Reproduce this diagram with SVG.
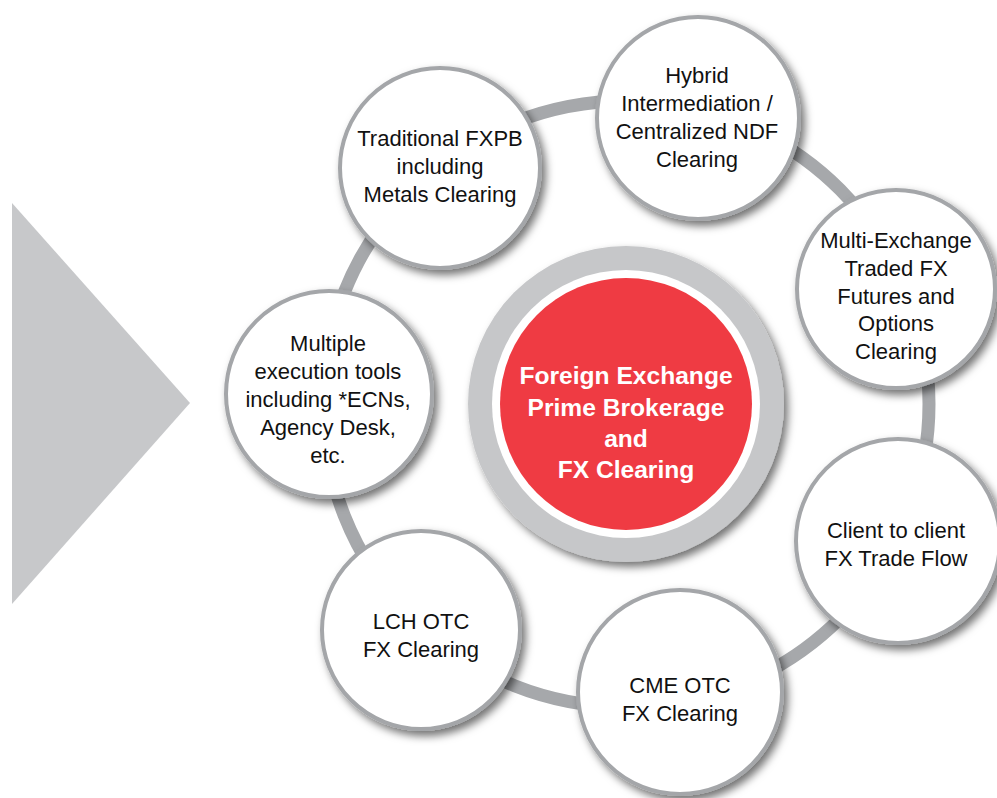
<svg xmlns="http://www.w3.org/2000/svg" width="997" height="798" viewBox="0 0 997 798">
<defs>
<filter id="sh" x="-20%" y="-20%" width="150%" height="150%">
<feDropShadow dx="4" dy="5" stdDeviation="4" flood-color="#000" flood-opacity="0.55"/>
</filter>
<style>
.node circle{fill:#fff;stroke:#a4a6a9;stroke-width:4;filter:url(#sh)}
.node text{font-family:"Liberation Sans",Arial,sans-serif;font-size:22px;fill:#111;text-anchor:middle}
.ctext{font-family:"Liberation Sans",Arial,sans-serif;font-size:24.6px;font-weight:bold;fill:#fff;text-anchor:middle}
</style>
</defs>
<rect width="997" height="798" fill="#fff"/>
<polygon points="12,203 190,403 12,604" fill="#c7c8ca"/>
<g id="connectors">
<circle cx="626" cy="404" r="303" fill="none" stroke="#a6a8ab" stroke-width="13"/>
</g>
<g id="center">
<circle cx="626" cy="404" r="158" fill="#c6c7c9" filter="url(#sh)"/>
<circle cx="626" cy="404" r="134" fill="#fff"/>
<circle cx="626" cy="404" r="126" fill="#ef3b43"/>
<text class="ctext" x="626" y="384">Foreign Exchange</text>
<text class="ctext" x="626" y="416">Prime Brokerage</text>
<text class="ctext" x="626" y="447">and</text>
<text class="ctext" x="626" y="478">FX Clearing</text>
</g>
<g id="n1" class="node">
<circle cx="440" cy="168" r="100"/>
<text x="440" y="146">Traditional FXPB</text>
<text x="440" y="174">including</text>
<text x="440" y="202">Metals Clearing</text>
</g>
<g id="n2" class="node">
<circle cx="698" cy="118" r="101"/>
<text x="697" y="83">Hybrid</text>
<text x="697" y="111">Intermediation /</text>
<text x="697" y="139">Centralized NDF</text>
<text x="697" y="167">Clearing</text>
</g>
<g id="n3" class="node">
<circle cx="896" cy="289" r="99"/>
<text x="896" y="248">Multi-Exchange</text>
<text x="896" y="276">Traded FX</text>
<text x="896" y="304">Futures and</text>
<text x="896" y="331">Options</text>
<text x="896" y="359">Clearing</text>
</g>
<g id="n4" class="node">
<circle cx="898" cy="541" r="102"/>
<text x="896" y="538">Client to client</text>
<text x="896" y="566">FX Trade Flow</text>
</g>
<g id="n5" class="node">
<circle cx="680" cy="692" r="102"/>
<text x="680" y="693">CME OTC</text>
<text x="680" y="721">FX Clearing</text>
</g>
<g id="n6" class="node">
<circle cx="421" cy="630" r="99"/>
<text x="421" y="629">LCH OTC</text>
<text x="421" y="657">FX Clearing</text>
</g>
<g id="n7" class="node">
<circle cx="329" cy="394" r="103"/>
<text x="328" y="351">Multiple</text>
<text x="328" y="379">execution tools</text>
<text x="328" y="407">including *ECNs,</text>
<text x="328" y="435">Agency Desk,</text>
<text x="328" y="463">etc.</text>
</g>
</svg>
